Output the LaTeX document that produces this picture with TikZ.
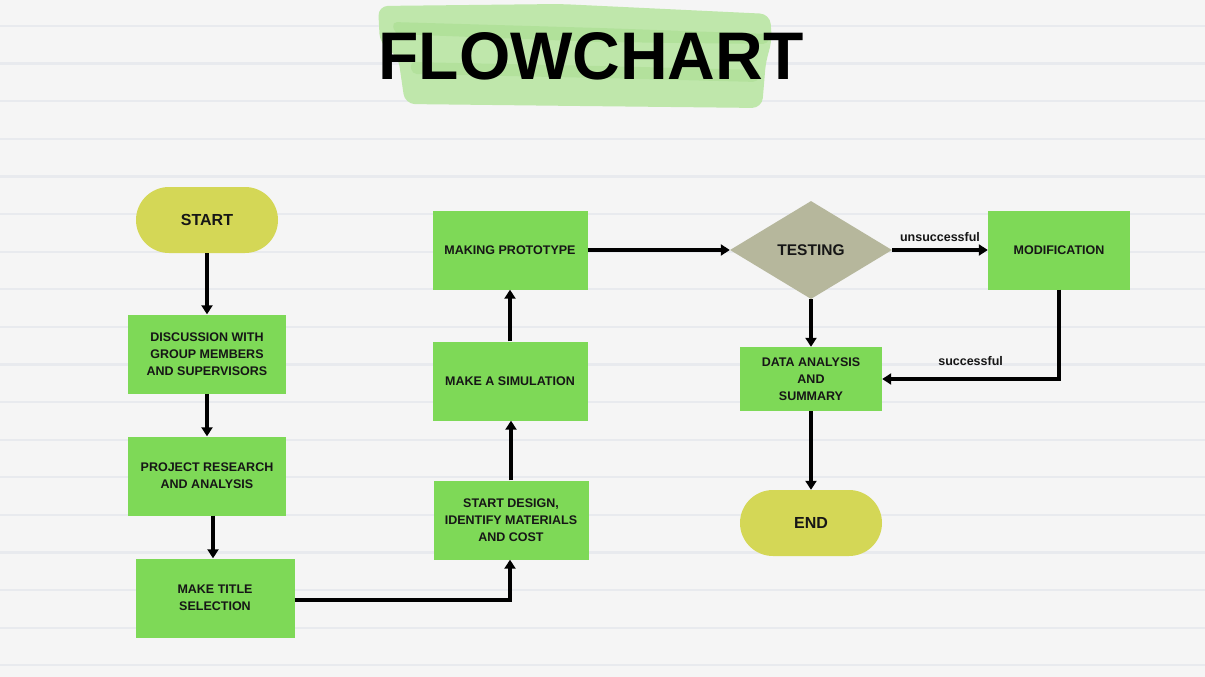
\documentclass[tikz,border=0pt]{standalone}
\usepackage{fontspec}
\setmainfont{Liberation Sans}
\usetikzlibrary{shapes.geometric,arrows.meta}
\definecolor{bgcol}{HTML}{F5F5F5}
\definecolor{linecol}{HTML}{E8EAEE}
\definecolor{boxgreen}{HTML}{7ED957}
\definecolor{termcol}{HTML}{D4D756}
\definecolor{diacol}{HTML}{B6B79C}
\definecolor{hlight}{HTML}{BFE7AB}
\definecolor{hdark}{HTML}{A8DD8F}
\definecolor{txt}{HTML}{161616}
\begin{document}
\begin{tikzpicture}[x=1pt,y=-1pt,
  proc/.style={rectangle, fill=boxgreen, minimum width=158pt, minimum height=79pt, inner sep=0pt, align=center, text=txt, font=\bfseries\fontsize{12.5}{17}\selectfont},
  term/.style={rectangle, rounded corners=33pt, fill=termcol, minimum width=142pt, minimum height=66pt, inner sep=0pt, text=txt, font=\bfseries\fontsize{16}{19}\selectfont},
  decide/.style={diamond, aspect=1.65, fill=diacol, minimum width=162pt, minimum height=98pt, inner sep=0pt, text=txt, font=\bfseries\fontsize{15.5}{19}\selectfont},
  conn/.style={draw=black, line width=3.1pt, -{Triangle[length=9pt,width=11pt]}},
  lbl/.style={text=txt, font=\bfseries\fontsize{12.5}{15}\selectfont, inner sep=0pt}
]
\useasboundingbox (0,0) rectangle (1205,677);
\fill[bgcol] (0,0) rectangle (1205,677);
\foreach \i in {0,...,17}{
  \draw[linecol, line width=2.2pt] (0,{26+37.6*\i}) -- (1205,{26+37.6*\i});
}
% highlighter strokes
\fill[hlight, rounded corners=10pt] (378,6) -- (560,4) -- (770,14) -- (772,42) -- (766,60) -- (762,108) -- (580,106) -- (405,104) -- (398,56) -- (380,44) -- cycle;
\fill[hdark, opacity=0.6, rounded corners=5pt] (392,22) -- (600,28) -- (770,34) -- (768,44) -- (600,42) -- (395,34) -- cycle;
\fill[hdark, opacity=0.5, rounded corners=5pt] (410,62) -- (600,66) -- (760,70) -- (758,82) -- (600,78) -- (412,74) -- cycle;

\node[text=black, font=\bfseries\fontsize{66}{70}\selectfont, inner sep=0pt, yscale=1.02] (title) at (591,56) {FLOWCHART};

\node[term] (start) at (207,220) {START};
\node[proc] (disc) at (207,354) {DISCUSSION WITH\\GROUP MEMBERS\\AND SUPERVISORS};
\node[proc] (res) at (207,476) {PROJECT RESEARCH\\AND ANALYSIS};
\node[proc, minimum width=159pt] (title2) at (215,598) {MAKE TITLE\\SELECTION};
\node[proc, minimum width=155pt] (design) at (511,520) {START DESIGN,\\IDENTIFY MATERIALS\\AND COST};
\node[proc, minimum width=155pt] (sim) at (510,381) {MAKE A SIMULATION};
\node[proc, minimum width=155pt] (proto) at (510,250) {MAKING PROTOTYPE};
\node[decide] (test) at (811,250) {TESTING};
\node[proc, minimum width=142pt] (mod) at (1059,250) {MODIFICATION};
\node[proc, minimum width=142pt, minimum height=64pt] (data) at (811,379) {DATA ANALYSIS\\AND\\SUMMARY};
\node[term] (end) at (811,523) {END};

\draw[conn] (start.south) -- (disc.north);
\draw[conn] (disc.south) -- (res.north);
\draw[conn] (res.south -| 213,0) -- (title2.north -| 213,0);
\draw[conn] (title2.east |- 0,600) -- (510,600) -- (design.south -| 510,0);
\draw[conn] (design.north) -- (sim.south -| design.north);
\draw[conn] (sim.north) -- (proto.south);
\draw[conn] (proto.east) -- (test.west);
\draw[conn] (test.east) -- node[lbl, above=7pt] {unsuccessful} (mod.west);
\draw[conn] (test.south) -- (data.north);
\draw[conn] (mod.south) |- node[lbl, pos=0.75, above=12pt] {successful} (data.east);
\draw[conn] (data.south) -- (end.north);
\end{tikzpicture}
\end{document}
